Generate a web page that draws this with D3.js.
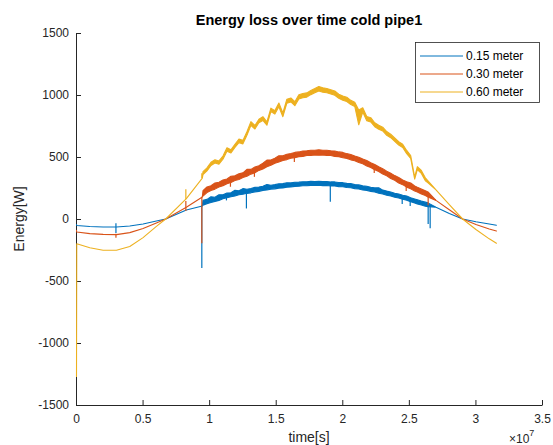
<!DOCTYPE html>
<html>
<head>
<meta charset="utf-8">
<script src="https://cdn.jsdelivr.net/npm/d3@7"></script>
<style>
html,body{margin:0;padding:0;background:#fff;}
svg{display:block;font-family:"Liberation Sans",Arial,Helvetica,sans-serif;}
</style>
</head>
<body>
<svg id="chart" width="553" height="445"></svg>
<script>
// ---------------- DATA ----------------
const chartTitle = "Energy loss over time cold pipe1";
const xLabel = "time[s]";
const yLabel = "Energy[W]";
const seriesNames = ["0.15 meter", "0.30 meter", "0.60 meter"];
const seriesColors = ["#0072BD", "#D95319", "#EDB120"];
const xTicks = [0, 0.5e7, 1e7, 1.5e7, 2e7, 2.5e7, 3e7, 3.5e7];
const xTickLabels = ["0", "0.5", "1", "1.5", "2", "2.5", "3", "3.5"];
const yTicks = [-1500, -1000, -500, 0, 500, 1000, 1500];

// time in units of 1e6 s
const timeE6 = [0, 0.02, 1, 2, 3, 4, 5, 6, 6.7, 8.25, 9.45,
  9.5, 9.8, 10.1, 10.4, 10.7, 11.0, 11.3, 11.6, 11.9, 12.2, 12.5, 12.8, 13.1, 13.4, 13.7,
  14.0, 14.3, 14.6, 14.9, 15.2, 15.5, 15.8, 16.1, 16.4, 16.7, 17.0, 17.3, 17.6, 17.9,
  18.2, 18.5, 18.8, 19.1, 19.4, 19.7, 20.0, 20.3, 20.6, 20.9, 21.2, 21.5, 21.8, 22.1,
  22.4, 22.7, 23.0, 23.3, 23.6, 23.9, 24.2, 24.5, 24.8, 25.1, 25.4, 25.6, 25.9, 26.2, 26.4,
  27, 28, 29, 30, 31, 31.54];

// 0.15 meter: lower / upper edge of the trace
const blueLo = [-45, -52, -60, -64, -65, -57, -40, -16, 0, 72, 105,
  112, 124, 133, 142, 150, 163, 171, 180, 186, 195, 200, 207, 211, 219, 223,
  231, 234, 241, 243, 249, 251, 257, 258, 263, 264, 268, 268, 271, 270,
  272, 269, 270, 266, 266, 261, 260, 254, 252, 245, 242, 234, 231, 223,
  218, 208, 201, 191, 185, 175, 169, 159, 152, 139, 130, 121, 113, 103, 100,
  95, 45, 0, -22, -40, -50];
const blueHi = [-45, -52, -60, -64, -65, -57, -40, -16, 0, 72, 105,
  150, 158, 180, 175, 195, 195, 210, 212, 232, 227, 245, 240, 246, 255, 258,
  264, 278, 272, 277, 284, 285, 292, 291, 296, 297, 300, 301, 304, 303,
  305, 302, 303, 299, 299, 294, 293, 287, 285, 278, 275, 267, 264, 256,
  251, 252, 233, 225, 218, 208, 202, 192, 185, 172, 162, 155, 144, 136, 130,
  95, 45, 0, -22, -40, -50];

// 0.30 meter
const redLo = [-92, -105, -118, -124, -126, -110, -76, -32, 0, 95, 177,
  185, 213, 230, 241, 258, 269, 285, 295, 310, 319, 334, 344, 362, 373, 392,
  404, 422, 433, 450, 459, 472, 479, 490, 494, 503, 505, 512, 512, 517,
  515, 517, 512, 512, 505, 503, 494, 489, 477, 470, 455, 445, 428, 416,
  397, 383, 363, 348, 327, 312, 291, 277, 257, 244, 225, 218, 201, 190, 177,
  150, 75, 0, -45, -80, -97];
const redHi = [-92, -105, -118, -124, -126, -110, -76, -32, 0, 95, 177,
  228, 258, 268, 290, 297, 315, 322, 345, 348, 365, 372, 400, 400, 420, 430,
  450, 475, 475, 490, 510, 510, 522, 528, 537, 541, 548, 550, 555, 555,
  558, 555, 555, 550, 548, 541, 537, 527, 520, 508, 498, 483, 471, 454,
  440, 421, 406, 386, 370, 350, 335, 315, 300, 290, 266, 256, 242, 228, 218,
  150, 75, 0, -45, -80, -97];

// 0.60 meter
const yellowLo = [-1270, -200, -232, -252, -252, -222, -150, -60, 0, 165, 330,
  358, 388, 432, 452, 442, 482, 546, 532, 577, 616, 606, 676, 755, 726, 776,
  795, 756, 866, 846, 905, 825, 934, 944, 914, 968, 978, 983, 1003, 1018,
  1032, 1022, 1018, 1008, 998, 973, 958, 948, 923, 908, 760, 863, 793, 783,
  744, 724, 710, 675, 656, 626, 597, 577, 527, 488, 322, 398, 368, 308, 292,
  235, 115, 0, -85, -160, -195];
const yellowHi = [-1270, -200, -232, -252, -252, -222, -150, -60, 0, 165, 330,
  382, 412, 458, 478, 468, 508, 574, 558, 603, 644, 634, 704, 785, 754, 804,
  825, 784, 894, 874, 935, 855, 966, 976, 946, 1002, 1012, 1017, 1037, 1052,
  1068, 1058, 1052, 1042, 1032, 1007, 992, 982, 957, 942, 880, 897, 827, 817,
  776, 756, 740, 705, 684, 654, 623, 603, 553, 512, 338, 422, 392, 332, 308,
  235, 115, 0, -85, -160, -195];

// isolated vertical spikes (time in 1e6 s, low / high value)
const blueSpikeT = [3.0, 9.45, 11.3, 12.8, 19.1, 24.5, 25.1, 26.45, 26.6];
const blueSpikeLo = [-113, -395, 150, 85, 140, 120, 105, -40, -75];
const blueSpikeHi = [-35, 110, 185, 215, 275, 180, 160, 120, 112];
const redSpikeT = [3.0, 8.25, 9.45, 11.6, 13.4, 16.4, 22.4, 24.8, 26.45];
const redSpikeLo = [-152, 65, -195, 260, 340, 460, 370, 225, 110];
const redSpikeHi = [-118, 145, 180, 330, 400, 520, 420, 290, 215];
const yellowSpikeT = [8.25, 9.45];
const yellowSpikeLo = [160, 330];
const yellowSpikeHi = [240, 368];

// ---------------- CHART ----------------
const svg = d3.select("#chart");
const W = 553, H = 445;
const m = {left: 76, right: 11, top: 33, bottom: 40};
const axisColor = "#262626";

const x = d3.scaleLinear().domain([0, 3.5e7]).range([m.left, W - m.right]);
const y = d3.scaleLinear().domain([-1500, 1500]).range([H - m.bottom, m.top]);

// axes (drawn first, data goes on top as in the reference)
const xAxis = d3.axisBottom(x)
  .tickValues(xTicks)
  .tickFormat((d, i) => xTickLabels[i])
  .tickSizeInner(-5).tickSizeOuter(0).tickPadding(9);
const yAxis = d3.axisLeft(y)
  .tickValues(yTicks)
  .tickFormat(d3.format("d"))
  .tickSizeInner(-5).tickSizeOuter(0).tickPadding(7);

const gx = svg.append("g").attr("transform", `translate(0,${H - m.bottom})`).call(xAxis);
const gy = svg.append("g").attr("transform", `translate(${m.left},0)`).call(yAxis);
[gx, gy].forEach(g => {
  g.select(".domain").attr("stroke", axisColor).attr("stroke-width", 1);
  g.selectAll(".tick line").attr("stroke", axisColor).attr("stroke-width", 1);
  g.selectAll(".tick text").attr("fill", axisColor)
    .style("font-size", "12px").style("font-family", "'Liberation Sans',Arial,sans-serif");
});
gy.selectAll(".tick text").text(d => d < 0 ? "-" + Math.abs(d) : d);

const clipId = "plotclip";
svg.append("defs").append("clipPath").attr("id", clipId)
  .append("rect").attr("x", m.left - 2).attr("y", m.top)
  .attr("width", W - m.right - m.left + 2).attr("height", H - m.bottom - m.top);

const plot = svg.append("g").attr("clip-path", `url(#${clipId})`);

const series = [
  {lo: blueLo, hi: blueHi, sT: blueSpikeT, sLo: blueSpikeLo, sHi: blueSpikeHi},
  {lo: redLo, hi: redHi, sT: redSpikeT, sLo: redSpikeLo, sHi: redSpikeHi},
  {lo: yellowLo, hi: yellowHi, sT: yellowSpikeT, sLo: yellowSpikeLo, sHi: yellowSpikeHi}
];

const area = d3.area()
  .x(d => x(d.t * 1e6) + 0.5)
  .y0(d => y(d.lo))
  .y1(d => y(d.hi));

series.forEach((s, i) => {
  const pts = timeE6.map((t, k) => ({t: t, lo: s.lo[k], hi: s.hi[k]}));
  const g = plot.append("g");
  g.append("path")
    .datum(pts)
    .attr("d", area)
    .attr("fill", seriesColors[i])
    .attr("stroke", seriesColors[i])
    .attr("stroke-width", 1.1)
    .attr("stroke-linejoin", "round");
  g.selectAll("line.spike")
    .data(s.sT.map((t, k) => ({t: t, lo: s.sLo[k], hi: s.sHi[k]})))
    .join("line")
    .attr("class", "spike")
    .attr("x1", d => x(d.t * 1e6)).attr("x2", d => x(d.t * 1e6))
    .attr("y1", d => y(d.lo)).attr("y2", d => y(d.hi))
    .attr("stroke", seriesColors[i])
    .attr("stroke-width", 1.2);
});

// title and labels
svg.append("text")
  .attr("x", (m.left + W - m.right) / 2).attr("y", 25)
  .attr("text-anchor", "middle")
  .style("font-size", "14.5px").style("font-weight", "bold")
  .attr("fill", "#000").text(chartTitle);

svg.append("text")
  .attr("x", (m.left + W - m.right) / 2).attr("y", 442)
  .attr("text-anchor", "middle")
  .style("font-size", "14px").attr("fill", axisColor).text(xLabel);

svg.append("text")
  .attr("transform", `translate(24,${(m.top + H - m.bottom) / 2}) rotate(-90)`)
  .attr("text-anchor", "middle")
  .style("font-size", "14px").attr("fill", axisColor).text(yLabel);

const mult = svg.append("text")
  .attr("x", 509).attr("y", 443)
  .style("font-size", "12px").attr("fill", axisColor);
mult.append("tspan").text("\u00d710");
mult.append("tspan").attr("dy", -7).style("font-size", "9px").text("7");

// legend
const lg = svg.append("g");
lg.append("rect")
  .attr("x", 415.5).attr("y", 42.5).attr("width", 124).attr("height", 60)
  .attr("fill", "#fff").attr("stroke", axisColor).attr("stroke-width", 0.8);
seriesNames.forEach((name, i) => {
  const yy = 56 + i * 18;
  lg.append("line")
    .attr("x1", 420).attr("x2", 463).attr("y1", yy).attr("y2", yy)
    .attr("stroke", seriesColors[i]).attr("stroke-width", 1);
  lg.append("text")
    .attr("x", 466).attr("y", yy).attr("dy", "0.35em")
    .style("font-size", "12px").attr("fill", "#000").text(name);
});
</script>
</body>
</html>
